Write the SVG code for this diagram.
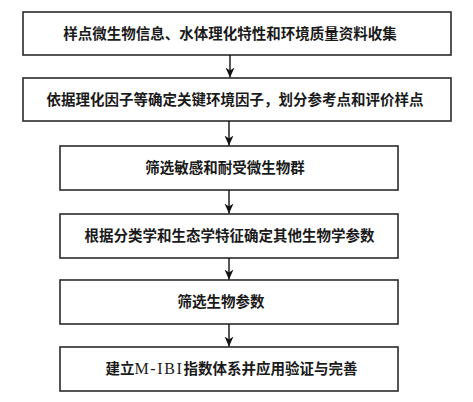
<svg xmlns="http://www.w3.org/2000/svg" width="473" height="402" viewBox="0 0 473 402">
<style>
.box{fill:#fff;stroke:#2b2b2b;stroke-width:1.6}
.lbl{font-family:"Noto Sans CJK SC","Noto Sans",sans-serif;font-size:14.5px;font-weight:bold;fill:#1a1a1a;text-anchor:middle}
.lat{font-family:"Liberation Serif",serif;font-size:16px;font-weight:normal;letter-spacing:1.6px}
.con{stroke:#111;stroke-width:1.4;fill:none}
</style>
<defs>
<marker id="ah" viewBox="0 0 10 10" refX="10" refY="5" markerWidth="10" markerHeight="10" markerUnits="userSpaceOnUse" orient="auto">
<path d="M0,0.5 L10,5 L0,9.5 L3,5 Z" fill="#111"/>
</marker>
</defs>
<rect width="473" height="402" fill="#fff"/>
<g id="n1"><rect class="box" x="23" y="12" width="428" height="43"/><text class="lbl" x="230" y="39">样点微生物信息、水体理化特性和环境质量资料收集</text></g>
<g id="n2"><rect class="box" x="23" y="78" width="428" height="43"/><text class="lbl" x="235" y="105">依据理化因子等确定关键环境因子，划分参考点和评价样点</text></g>
<g id="n3"><rect class="box" x="60" y="146" width="338" height="44"/><text class="lbl" x="225" y="173">筛选敏感和耐受微生物群</text></g>
<g id="n4"><rect class="box" x="60" y="214" width="338" height="44"/><text class="lbl" x="229.5" y="241">根据分类学和生态学特征确定其他生物学参数</text></g>
<g id="n5"><rect class="box" x="60" y="280" width="338" height="44"/><text class="lbl" x="221" y="307">筛选生物参数</text></g>
<g id="n6"><rect class="box" x="60" y="347" width="338" height="44"/><text class="lbl" x="231.5" y="374">建立<tspan class="lat">M-IBI</tspan>指数体系并应用验证与完善</text></g>
<g id="connectors">
<line class="con" x1="230" y1="55" x2="230" y2="77.5" marker-end="url(#ah)"/>
<line class="con" x1="229" y1="121" x2="229" y2="145.5" marker-end="url(#ah)"/>
<line class="con" x1="229" y1="190" x2="229" y2="213.5" marker-end="url(#ah)"/>
<line class="con" x1="229" y1="258" x2="229" y2="279.5" marker-end="url(#ah)"/>
<line class="con" x1="229" y1="324" x2="229" y2="346.5" marker-end="url(#ah)"/>
</g>
</svg>
